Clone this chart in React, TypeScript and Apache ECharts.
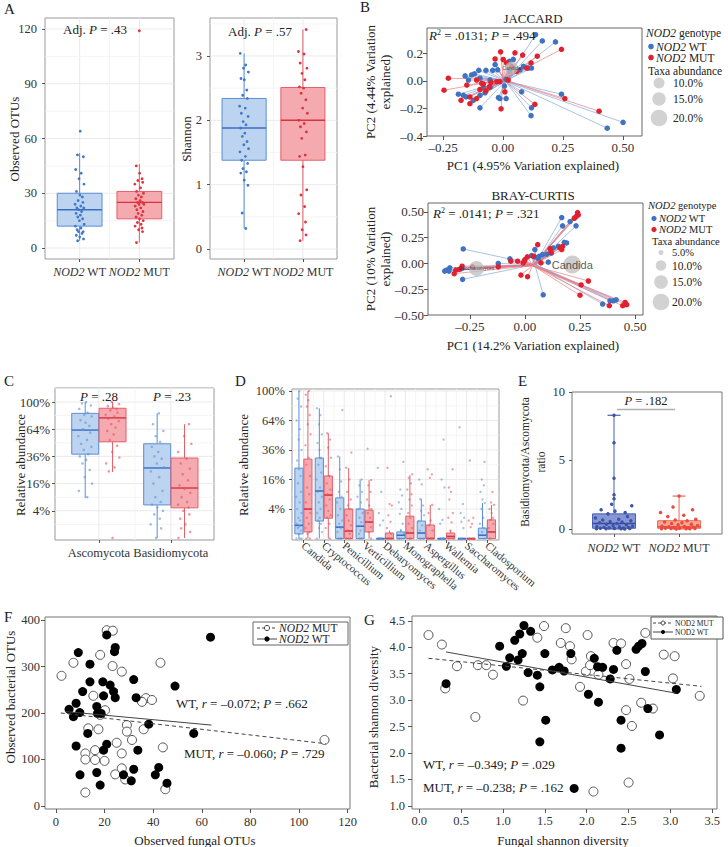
import React, { useEffect, useRef } from "react";
import * as echarts from "echarts";

const SERIF = "'Liberation Serif','DejaVu Serif',serif";
const SANS = "'Liberation Sans','DejaVu Sans',sans-serif";

// ---------- shared ----------
const GROUP_LABELS = ["NOD2 WT", "NOD2 MUT"];
const JIT = [0.12, -0.45, 0.78, -0.83, 0.33, -0.12, 0.91, -0.66, 0.05, 0.57, -0.31, 0.69, -0.95, 0.24, -0.58, 0.86, -0.2, 0.41, -0.74, 0.15, -0.38, 0.63, -0.05, 0.95, -0.88, 0.28, -0.52, 0.74, -0.25, 0.49, -0.7, 0.02, 0.81, -0.41, 0.36, -0.9, 0.55, -0.15, 0.67, -0.6];

// ---------- Panel A ----------
const A_OTU_WT = [64, 51, 50, 43, 41, 38, 35, 31, 29, 28, 26, 25, 24, 23, 22, 22, 21, 20, 19, 18, 17, 16, 15, 13, 12, 11, 10, 9, 9, 8, 7, 6, 5, 4];
const A_OTU_MUT = [45, 41, 38, 37, 36, 35, 33, 31, 30, 29, 28, 27, 26, 25, 25, 24, 24, 23, 22, 21, 20, 19, 18, 17, 16, 15, 14, 13, 12, 11, 10, 9, 3];
const A_OTU_MUT_OUTLIER = [119];
const A_OTU_BOX_WT = [4, 12, 21, 30, 52];
const A_OTU_BOX_MUT = [3, 16, 25, 31, 46];
const A_OTU_TICKS = [0, 30, 60, 90, 120];
const A_SH_WT = [3.04, 2.86, 2.81, 2.75, 2.65, 2.63, 2.47, 2.39, 2.34, 2.22, 2.19, 2.11, 2.06, 1.98, 1.93, 1.88, 1.8, 1.75, 1.67, 1.62, 1.56, 1.51, 1.44, 1.38, 1.33, 1.25, 1.2, 1.18, 1.07, 0.99, 0.56, 0.32];
const A_SH_MUT = [3.41, 3.07, 3.03, 2.89, 2.81, 2.73, 2.63, 2.52, 2.5, 2.42, 2.32, 2.19, 2.11, 2.0, 1.95, 1.9, 1.82, 1.72, 1.46, 1.44, 1.28, 0.92, 0.84, 0.66, 0.55, 0.42, 0.3, 0.22, 0.13];
const A_SH_BOX_WT = [0.32, 1.38, 1.88, 2.34, 3.04];
const A_SH_BOX_MUT = [0.13, 1.38, 2.0, 2.51, 3.41];
const A_SH_TICKS = [0, 1, 2, 3];

// ---------- Panel B ----------
const B_TICKS_X1 = [-0.25, 0, 0.25, 0.5];
const B_TICKS_Y1 = [-0.4, -0.2, 0, 0.2];
const B_TICKS_X2 = [-0.25, 0, 0.25, 0.5];
const B_TICKS_Y2 = [-0.5, -0.25, 0, 0.25, 0.5];
const JAC_WT = [[0.136, 0.336], [0.164, 0.291], [0.219, 0.284], [0.026, 0.143], [-0.033, 0.119], [-0.022, 0.081], [-0.071, 0.077], [-0.043, 0.077], [-0.101, 0.077], [-0.131, 0.044], [-0.158, 0.037], [-0.144, 0.007], [-0.119, 0.052], [-0.096, 0.02], [-0.054, 0.007], [0.071, 0.081], [0.106, 0.094], [0.119, 0.094], [0.085, 0.106], [0.043, 0.156], [0.006, -0.037], [0.013, 0.012], [-0.186, -0.096], [-0.165, -0.104], [-0.154, -0.116], [-0.096, -0.104], [-0.075, -0.086], [-0.054, -0.047], [-0.019, -0.121], [-0.013, -0.128], [0.013, -0.128], [-0.096, -0.195], [0.078, -0.079], [0.244, -0.096], [0.119, -0.195], [0.117, -0.252], [0.435, -0.343], [0.501, -0.301], [-0.124, -0.141], [-0.082, -0.047], [0.029, 0.069]];
const JAC_MUT = [[-0.228, 0.02], [-0.246, -0.067], [-0.175, -0.141], [-0.138, -0.116], [-0.138, -0.165], [-0.11, -0.128], [-0.096, -0.062], [-0.071, -0.072], [-0.057, -0.042], [-0.05, -0.012], [-0.026, -0.005], [-0.01, 0.212], [0.001, 0.156], [-0.033, 0.16], [0.05, 0.205], [0.082, 0.188], [0.117, 0.131], [0.143, 0.18], [0.244, 0.23], [0.099, 0.094], [0.057, 0.069], [0.022, 0.007], [-0.013, -0.005], [0.008, -0.079], [-0.008, -0.202], [0.133, -0.17], [0.258, -0.128], [0.401, -0.22], [-0.082, -0.022], [0.015, 0.131], [0.036, 0.106], [-0.11, 0.007], [-0.089, -0.017], [-0.151, -0.03]];
const JAC_CENTROID_WT = [0.01, 0.0];
const JAC_CENTROID_MUT = [0.0, 0.01];
const JAC_TAXA = [{ name: "Candida", x: 0.036, y: 0.094, size: 13 }];
const BC_WT = [[0.167, 0.446], [0.205, 0.407], [0.232, 0.365], [0.171, 0.365], [0.179, 0.205], [0.152, 0.167], [0.045, 0.135], [0.08, 0.087], [0.065, 0.07], [0.045, 0.064], [0.03, 0.077], [0.106, 0.013], [-0.068, 0.045], [-0.121, 0], [-0.28, 0.141], [-0.283, -0.154], [0.083, -0.304], [-0.341, -0.042], [-0.356, -0.064], [-0.345, -0.074], [-0.364, -0.074], [-0.288, -0.051], [0.353, -0.394], [0.386, -0.362], [0.402, -0.362], [0.414, -0.353], [0.129, 0.151], [0.189, 0.199], [0.1, 0.09], [0.12, 0.1], [0.06, 0.05]];
const BC_MUT = [[0.239, 0.494], [0.242, 0.471], [0.232, 0.455], [0.224, 0.439], [0.171, 0.167], [0.159, 0.151], [0.167, 0.135], [0.114, 0.144], [0.118, 0.109], [0.058, 0.183], [0.038, 0.071], [0.011, 0.064], [0, 0.038], [-0.003, 0.022], [-0.064, 0.022], [-0.033, 0.022], [0.073, 0.006], [-0.008, 0.006], [-0.121, -0.032], [-0.238, -0.032], [-0.285, -0.026], [-0.298, -0.058], [-0.314, -0.064], [-0.321, -0.099], [-0.018, -0.112], [0.012, -0.128], [0.255, -0.208], [0.288, -0.17], [0.25, -0.308], [0.383, -0.41], [0.444, -0.41], [0.455, -0.378], [0.462, -0.4]];
const BC_CENTROID_WT = [0.045, -0.01];
const BC_CENTROID_MUT = [0.035, -0.02];
const BC_TAXA = [{ name: "Candida", x: 0.215, y: -0.01, size: 18, fs: 11 }, { name: "Saccharomyces", x: -0.22, y: -0.048, size: 15, fs: 5 }];

// ---------- Panel C ----------
const PHYLA = ["Ascomycota", "Basidiomycota"];
const C_ASCO_WT = [100, 98, 95, 90, 85, 82, 80, 75, 72, 68, 64, 60, 56, 52, 48, 45, 42, 38, 36, 33, 30, 25, 20, 16, 12, 9];
const C_ASCO_MUT = [100, 97, 94, 92, 90, 88, 85, 82, 80, 77, 74, 70, 66, 62, 58, 52, 46, 40, 35, 30, 27, 24];
const C_ASCO_MUT_OUTLIER = [0];
const C_BASI_WT = [84, 70, 62, 56, 50, 45, 40, 36, 34, 30, 27, 24, 20, 16, 12, 9, 7, 6, 5, 4, 3, 2, 1, 0.5, 0];
const C_BASI_MUT = [70, 56, 48, 40, 34, 30, 26, 22, 18, 15, 13, 11, 9, 7, 6, 5, 4, 3, 2, 1, 0.5, 0.2, 0];
const C_BOX_WT = [[8.6, 38, 63, 84, 100], [0, 5.9, 26.5, 48, 84]];
const C_BOX_MUT = [[23.5, 50, 78, 91, 100], [0, 4.9, 13.5, 34.6, 70]];
const PCT_TICKS = [4, 16, 36, 64, 100];

// ---------- Panel D ----------
const TAXA = ["Candida", "Cryptococcus", "Penicillium", "Verticillium", "Debaryomyces", "Monographella", "Aspergillus", "Wallemia", "Saccharomyces", "Cladosporium"];
const D_BOX_WT = [[0, 0.1, 0.8, 22.8, 100], [0, 1.4, 10.4, 29.8, 78], [0, 0, 0.6, 7.6, 31], [0, 0, 0.7, 4, 16], [0, 0, 0, 0, 0], [0, 0, 0.05, 0.2, 0.4], [0, 0, 0.14, 1.4, 7.2], [0, 0, 0, 0, 0], [0, 0, 0, 0, 0], [0, 0, 0.05, 0.5, 5.8]];
const D_BOX_MUT = [[0, 0.2, 4, 29, 100], [0, 1.9, 8.7, 18, 51], [0, 0, 0.26, 4, 22.8], [0, 0.2, 1.25, 3.7, 15.7], [0, 0, 0, 0.14, 0.3], [0, 0, 0.14, 2.3, 18.5], [0, 0, 0, 0.84, 5.2], [0, 0, 0.02, 0.14, 0.3], [0, 0, 0, 0, 0], [0, 0, 0.2, 1.6, 5.2]];
const D_PTS_WT = [
  [100, 90, 80, 64, 55, 45, 36, 28, 22, 18, 14, 10, 8, 6, 4, 3, 2, 1.5, 1, 0.7, 0.5, 0.3, 0.1, 0, 0, 0],
  [78, 70, 60, 50, 42, 36, 30, 25, 20, 16, 12, 10, 8, 6, 4, 3, 2, 1.5, 1, 0.5, 0.2, 0],
  [76, 31, 22, 15, 10, 8, 6, 4, 2.5, 1.5, 1, 0.5, 0.2, 0, 0, 0],
  [16, 13, 10, 8, 6, 4, 3, 2, 1.2, 0.7, 0.3, 0.1, 0, 0],
  [23, 10, 3, 1.5, 0.8, 0, 0, 0, 0],
  [27, 11, 8.5, 6, 4, 2.8, 1, 0.3, 0.1, 0, 0, 0],
  [16, 13.5, 7.2, 5, 3.5, 2.5, 1.4, 0.8, 0.3, 0, 0],
  [45, 16, 12, 4, 1.6, 1.0, 0, 0, 0],
  [57, 5.5, 3, 2, 1.3, 0.5, 0, 0],
  [27, 16, 13, 10, 7, 5.8, 4, 2, 1, 0.5, 0.2, 0],
];
const D_PTS_MUT = [
  [100, 95, 88, 80, 70, 60, 50, 40, 30, 25, 18, 12, 9, 6, 4, 3, 2, 1, 0.5, 0.2, 0.1, 0, 0],
  [51, 45, 38, 30, 24, 18, 14, 11, 9, 7, 5, 3.5, 2.5, 2, 1, 0.5, 0],
  [34, 23, 16, 10, 7, 5, 4, 2.5, 1.5, 0.8, 0.3, 0.1, 0, 0, 0],
  [37, 15.7, 13, 10, 7, 5, 4, 3, 2, 1.3, 0.6, 0.2, 0],
  [93, 23, 5.5, 5, 2.5, 1.3, 0.5, 0.1, 0, 0, 0],
  [19, 17, 14, 11, 9, 7, 5, 3, 2, 1, 0.5, 0.2, 0, 0],
  [22, 19, 17, 5.2, 3, 1.5, 0.8, 0.3, 0, 0],
  [22, 12, 10, 7, 3, 2, 1.2, 0.3, 0, 0],
  [28, 2, 1.5, 1, 0.6, 0, 0],
  [10, 6, 5.2, 4, 3, 2, 1.6, 1, 0.5, 0.2, 0],
];

// ---------- Panel E ----------
const E_WT = [8.3, 6.3, 3.7, 2.5, 2.2, 1.8, 1.7, 1.4, 1.3, 1.2, 1.1, 0.9, 0.8, 0.7, 0.65, 0.6, 0.55, 0.5, 0.45, 0.4, 0.35, 0.3, 0.25, 0.2, 0.18, 0.15, 0.12, 0.1, 0.08, 0.06, 0.05, 0.04, 0.03, 0.02, 0.01, 0.01, 0];
const E_MUT = [2.4, 1.6, 1.4, 1.2, 1.0, 0.9, 0.7, 0.65, 0.6, 0.5, 0.45, 0.4, 0.35, 0.3, 0.25, 0.2, 0.18, 0.15, 0.12, 0.1, 0.08, 0.06, 0.05, 0.04, 0.03, 0.02, 0.01, 0.01, 0];
const E_BOX_WT = [0, 0.05, 0.4, 1.1, 8.3];
const E_BOX_MUT = [0, 0.05, 0.15, 0.6, 2.4];
const E_TICKS = [0, 5, 10];

// ---------- Panel F ----------
const F_MUT = [[2.3, 280], [7.2, 308], [20.9, 378], [23.4, 377], [18.2, 325], [23.3, 301], [27.1, 289], [43, 308], [15.4, 237], [37, 232], [39.5, 228], [35.4, 224], [20.2, 206], [18.2, 196], [29.2, 174], [29.2, 160], [31.3, 142], [36.1, 165], [17.5, 165], [13.3, 167], [25, 136], [27.1, 113], [12.1, 113], [16.1, 120], [12.1, 100], [16.1, 99], [20, 97], [44, 126], [24.4, 68], [28.5, 57], [27.1, 81], [12.1, 29], [45, 36], [110.5, 142]];
const F_WT = [[9.2, 330], [20.9, 368], [24.4, 341], [24.1, 332], [14, 305], [32, 272], [14, 267], [19.3, 267], [22.3, 260], [49, 258], [11, 246], [19.6, 237], [23.7, 246], [24.4, 233], [33, 233], [63.6, 363], [5.4, 208], [8.3, 221], [7.2, 192], [9.8, 201], [16.8, 214], [17.1, 199], [18.6, 199], [38.2, 176], [13.1, 156], [56.7, 156], [20.9, 133], [19.6, 120], [33.7, 120], [8.3, 129], [9.9, 67], [16.8, 72], [18.2, 45], [27.8, 67], [32, 79], [31, 54], [42.3, 83], [40.9, 67], [45.7, 49]];
const F_FIT_WT = [[4, 203], [64, 174]];
const F_FIT_MUT = [[2, 200], [111, 134]];
const F_TICKS_X = [0, 20, 40, 60, 80, 100, 120];
const F_TICKS_Y = [0, 100, 200, 300, 400];

// ---------- Panel G ----------
const G_MUT = [[0.11, 4.23], [0.27, 4.05], [0.45, 3.64], [0.31, 3.22], [0.7, 3.66], [0.8, 3.66], [0.88, 3.48], [0.67, 2.68], [1.24, 2.99], [1.49, 4.4], [1.41, 4.18], [1.75, 4.36], [1.69, 4.08], [1.8, 4.02], [1.82, 3.77], [2.01, 4.23], [1.92, 3.25], [1.99, 3.54], [2.04, 3.66], [2.05, 3.83], [2.14, 3.48], [2.32, 4.08], [2.41, 4.07], [2.47, 3.68], [2.51, 3.4], [2.47, 2.81], [2.54, 2.51], [2.65, 2.95], [2.7, 4.27], [2.79, 2.84], [2.92, 3.86], [3.05, 3.83], [3.03, 3.41], [3.35, 3.08], [2.08, 1.27], [2.5, 1.44]];
const G_WT = [[0.32, 3.31], [0.96, 4.02], [1.04, 3.64], [1.08, 3.8], [1.18, 3.76], [1.14, 4.13], [1.2, 4.25], [1.25, 4.41], [1.33, 4.3], [1.23, 3.88], [1.3, 3.52], [1.41, 3.47], [1.44, 3.25], [1.5, 3.88], [1.59, 3.57], [1.67, 3.62], [1.73, 3.55], [1.81, 3.88], [1.44, 2.21], [1.51, 2.62], [1.85, 1.33], [2.02, 3.11], [2.09, 3.79], [2.13, 3.63], [2.19, 3.62], [2.14, 2.96], [2.28, 3.4], [2.32, 3.58], [2.36, 3.94], [2.41, 2.62], [2.41, 2.09], [2.59, 3.96], [2.62, 4.02], [2.66, 4.07], [2.7, 3.54], [2.73, 2.84], [2.87, 2.34], [3.07, 3.2]];
const G_FIT_WT = [[0.32, 3.91], [3.07, 3.13]];
const G_FIT_MUT = [[0.11, 3.79], [3.37, 3.26]];
const G_TICKS_X = [0, 0.5, 1, 1.5, 2, 2.5, 3, 3.5];
const G_TICKS_Y = [1, 1.5, 2, 2.5, 3, 3.5, 4, 4.5];

// ---------- colours ----------
const BLUE = { fill: "#bcd4f0", stroke: "#5a8ed6", med: "#3a6ec2", pt: "#3f78c9" };
const RED = { fill: "#f5aab0", stroke: "#e2606a", med: "#d8333e", pt: "#e0313c" };
const E_BLUE = { fill: "#8797d6", stroke: "#4a5fb3", med: "#34499f", pt: "#3d54a8" };
const E_RED = { fill: "#f7a797", stroke: "#ee6a58", med: "#e4432f", pt: "#eb4a3c" };
const B_BLUE = "#3f72bf";
const B_RED = "#e0212e";

const sq = (v: number) => Math.sqrt(v);
const minus = (s: string) => s.replace("-", "\u2013");

function jit(values: number[], xc: number, amp: number, k: number, tf?: (v: number) => number) {
  return values.map((v, i) => [xc + JIT[(i + k) % JIT.length] * amp, tf ? tf(v) : v]);
}

function axis(gi: number, min: number, max: number, vals: number[], fmt: any, o: any = {}) {
  return {
    type: "value", gridIndex: gi, min, max,
    axisLine: { show: false, onZero: false },
    splitLine: { show: false },
    axisTick: { show: o.tick !== false, customValues: vals, length: o.tickLen ?? 3, lineStyle: { color: o.tickColor || "#555", width: 1 } },
    axisLabel: {
      show: true, customValues: vals, formatter: fmt, color: "#333", fontFamily: SERIF, interval: 0,
      fontSize: o.size || 12.5, margin: o.margin ?? 5, rotate: o.rotate || 0, rich: o.rich, hideOverlap: false,
    },
  };
}

function boxSeries(gi: number, items: { x: number; s: number[] }[], w: number, col: any, o: any = {}) {
  return {
    type: "custom", xAxisIndex: gi, yAxisIndex: gi, silent: true, z: 2,
    data: items.map((b) => [b.x, ...b.s]),
    encode: { x: 0, y: [1, 2, 3, 4, 5] },
    renderItem: (params: any, api: any) => {
      const x = api.value(0);
      const lo = api.coord([x, api.value(1)]);
      const q1 = api.coord([x, api.value(2)]);
      const md = api.coord([x, api.value(3)]);
      const q3 = api.coord([x, api.value(4)]);
      const hi = api.coord([x, api.value(5)]);
      const l = api.coord([x - w / 2, 0])[0];
      const r = api.coord([x + w / 2, 0])[0];
      const lw = o.lw ?? 1;
      const children: any[] = [
        { type: "line", shape: { x1: lo[0], y1: lo[1], x2: q1[0], y2: q1[1] }, style: { stroke: col.stroke, lineWidth: lw } },
        { type: "line", shape: { x1: q3[0], y1: q3[1], x2: hi[0], y2: hi[1] }, style: { stroke: col.stroke, lineWidth: lw } },
        { type: "rect", shape: { x: l, y: q3[1], width: r - l, height: Math.max(q1[1] - q3[1], 0.6) }, style: { fill: col.fill, stroke: col.stroke, lineWidth: lw, opacity: o.opacity ?? 1 } },
        { type: "line", shape: { x1: l, y1: md[1], x2: r, y2: md[1] }, style: { stroke: col.med, lineWidth: o.medW ?? 1.4 } },
      ];
      if (o.cap) {
        const cl = api.coord([x - o.cap / 2, 0])[0];
        const cr = api.coord([x + o.cap / 2, 0])[0];
        children.push({ type: "line", shape: { x1: cl, y1: hi[1], x2: cr, y2: hi[1] }, style: { stroke: col.stroke, lineWidth: 1.2 } });
        children.push({ type: "line", shape: { x1: cl, y1: lo[1], x2: cr, y2: lo[1] }, style: { stroke: col.stroke, lineWidth: 1.2 } });
      }
      return { type: "group", children };
    },
  };
}

function gridLines(gi: number, xmin: number, ymin: number, hs: number[], vs: number[], color: string, width: number) {
  const data = [...hs.map((h) => [xmin, h, 0]), ...vs.map((v) => [v, ymin, 1])];
  return {
    type: "custom", xAxisIndex: gi, yAxisIndex: gi, silent: true, z: 0, data, encode: { x: 0, y: 1 },
    renderItem: (params: any, api: any) => {
      const cs = params.coordSys;
      const p = api.coord([api.value(0), api.value(1)]);
      if (api.value(2) === 0) return { type: "line", shape: { x1: cs.x, y1: p[1], x2: cs.x + cs.width, y2: p[1] }, style: { stroke: color, lineWidth: width } };
      return { type: "line", shape: { x1: p[0], y1: cs.y, x2: p[0], y2: cs.y + cs.height }, style: { stroke: color, lineWidth: width } };
    },
  };
}

function scat(gi: number, data: any[], color: string, size: number, o: any = {}) {
  return {
    type: "scatter", xAxisIndex: gi, yAxisIndex: gi, data, symbol: "circle", symbolSize: size, silent: true, z: o.z ?? 3,
    itemStyle: { color, opacity: o.opacity ?? 1, borderColor: o.border || color, borderWidth: o.bw ?? 0 },
  };
}

function spider(gi: number, pts: number[][], c: number[], color: string) {
  return {
    type: "custom", xAxisIndex: gi, yAxisIndex: gi, silent: true, z: 1,
    data: pts.map((p) => [p[0], p[1], c[0], c[1]]), encode: { x: [0, 2], y: [1, 3] },
    renderItem: (params: any, api: any) => {
      const a = api.coord([api.value(0), api.value(1)]);
      const b = api.coord([api.value(2), api.value(3)]);
      return { type: "line", shape: { x1: a[0], y1: a[1], x2: b[0], y2: b[1] }, style: { stroke: color, lineWidth: 0.8, opacity: 0.85 } };
    },
  };
}

function fitLine(gi: number, data: number[][], dashed: boolean) {
  return {
    type: "line", xAxisIndex: gi, yAxisIndex: gi, data, symbol: "none", silent: true, z: 5,
    lineStyle: { color: "#444", width: 1, type: dashed ? [4, 3] : "solid" },
  };
}

function bubbles(gi: number, taxa: any[]) {
  return {
    type: "scatter", xAxisIndex: gi, yAxisIndex: gi, silent: true, z: 4,
    data: taxa.map((t) => ({ value: [t.x, t.y], symbolSize: t.size, label: { show: true, formatter: t.name, position: "inside", fontSize: t.fs || 5, fontFamily: SANS, color: "#222" } })),
    itemStyle: { color: "#bdbdbd", opacity: 0.75 },
  };
}

function richG(size: number, color = "#222") {
  return {
    i: { fontStyle: "italic", fontFamily: SERIF, fontSize: size, fill: color, color },
    sup: { fontFamily: SERIF, fontSize: size * 0.62, fill: color, color, verticalAlign: "top", padding: [0, 0, 6, 0] },
  };
}

function txt(x: number, y: number, text: string, o: any = {}) {
  const size = o.size || 13;
  return {
    type: "text", x, y, rotation: o.rot || 0, silent: true, z: 100,
    style: {
      text, fill: o.color || "#222", fontSize: size, fontFamily: o.family || SERIF,
      fontStyle: o.italic ? "italic" : "normal",
      textAlign: o.align || "center", align: o.align || "center",
      textVerticalAlign: "middle", verticalAlign: "middle",
      rich: richG(size, o.color || "#222"),
    },
  };
}

function circ(cx: number, cy: number, r: number, fill: string, stroke?: string) {
  return { type: "circle", shape: { cx, cy, r }, silent: true, z: 100, style: { fill, stroke: stroke || null, lineWidth: 1 } };
}
function seg(x1: number, y1: number, x2: number, y2: number, stroke: string, w = 1, dash?: number[]) {
  return { type: "line", shape: { x1, y1, x2, y2 }, silent: true, z: 100, style: { stroke, lineWidth: w, lineDash: dash || null } };
}

function buildOption() {
  const gridDefs = [
    { left: 45, top: 18, width: 129, height: 241, border: "#9a9a9a" },
    { left: 210, top: 18, width: 127, height: 241, border: "#9a9a9a" },
    { left: 427, top: 28, width: 215, height: 108, border: "#666" },
    { left: 428, top: 203, width: 215, height: 112, border: "#666" },
    { left: 55, top: 388, width: 159, height: 152, border: "#9a9a9a" },
    { left: 292, top: 389, width: 207, height: 151, border: "#9a9a9a" },
    { left: 572, top: 392, width: 150, height: 142, border: "#777" },
    { left: 45, top: 617, width: 305, height: 192, border: "#777" },
    { left: 412, top: 616, width: 305, height: 193, border: "#777" },
  ];
  const grid = gridDefs.map((g) => ({ left: g.left, top: g.top, width: g.width, height: g.height, show: true, borderColor: g.border, borderWidth: 1, backgroundColor: "transparent", containLabel: false }));

  const richAx = (size: number) => ({ i: { fontStyle: "italic", fontFamily: SERIF, fontSize: size, color: "#333" } });
  const grpFmt = (v: number) => (v === 1 ? "{i|NOD2} WT" : "{i|NOD2} MUT");
  const pctFmt = (v: number) => Math.round(v * v) + "%";

  const xAxis = [
    axis(0, 0.42, 2.58, [1, 2], grpFmt, { rich: richAx(12), size: 12, margin: 7 }),
    axis(1, 0.42, 2.58, [1, 2], grpFmt, { rich: richAx(12), size: 12, margin: 7 }),
    axis(2, -0.317, 0.58, B_TICKS_X1, (v: number) => minus(v.toFixed(2)), { size: 13, margin: 5, tickLen: 4 }),
    axis(3, -0.44, 0.536, B_TICKS_X2, (v: number) => minus(v.toFixed(2)), { size: 13, margin: 5, tickLen: 4 }),
    axis(4, 0.39, 2.6, [1, 2], (v: number) => PHYLA[v - 1], { size: 12.5, margin: 6 }),
    axis(5, -0.56, 9.59, TAXA.map((_, i) => i), (v: number) => TAXA[v], { size: 11, margin: 4, rotate: -40 }),
    axis(6, 0.354, 2.66, [1, 2], grpFmt, { rich: richAx(12), size: 12, margin: 8 }),
    axis(7, -4.5, 121, F_TICKS_X, (v: number) => String(v), { size: 12.5, margin: 6, tickLen: 4 }),
    axis(8, -0.087, 3.556, G_TICKS_X, (v: number) => v.toFixed(1), { size: 12.5, margin: 5, tickLen: 4 }),
  ];
  const yAxis = [
    axis(0, -6, 126, A_OTU_TICKS, (v: number) => String(v), { size: 12.5, margin: 8 }),
    axis(1, -0.155, 3.59, A_SH_TICKS, (v: number) => String(v), { size: 12.5, margin: 8 }),
    axis(2, -0.4, 0.385, B_TICKS_Y1, (v: number) => minus(v.toFixed(1)), { size: 13, margin: 4, tickLen: 4 }),
    axis(3, -0.5, 0.587, B_TICKS_Y2, (v: number) => minus(v.toFixed(2)), { size: 13, margin: 4, tickLen: 4 }),
    axis(4, -0.15, 11.03, PCT_TICKS.map(sq), pctFmt, { size: 13, margin: 5 }),
    axis(5, -0.1, 10.14, PCT_TICKS.map(sq), pctFmt, { size: 12.5, margin: 7 }),
    axis(6, -0.37, 10, E_TICKS, (v: number) => String(v), { size: 12.5, margin: 7 }),
    axis(7, -6.5, 406.5, F_TICKS_Y, (v: number) => String(v), { size: 12.5, margin: 5, tickLen: 4 }),
    axis(8, 0.94, 4.59, G_TICKS_Y, (v: number) => v.toFixed(1), { size: 12.5, margin: 7, tickLen: 4 }),
  ];

  const MAJ = "#e4e4e4";
  const MIN = "#f1f1f1";
  const sqT = PCT_TICKS.map(sq);
  const series: any[] = [
    // A grids
    gridLines(0, 0.42, -6, A_OTU_TICKS, [1, 2], MAJ, 0.8),
    gridLines(0, 0.42, -6, [15, 45, 75, 105], [1.5], MIN, 0.8),
    gridLines(1, 0.42, -0.155, A_SH_TICKS, [1, 2], MAJ, 0.8),
    gridLines(1, 0.42, -0.155, [0.5, 1.5, 2.5, 3.5], [1.5], MIN, 0.8),
    // A boxes & points
    boxSeries(0, [{ x: 1, s: A_OTU_BOX_WT }], 0.75, BLUE),
    boxSeries(0, [{ x: 2, s: A_OTU_BOX_MUT }], 0.75, RED),
    scat(0, jit(A_OTU_WT, 1, 0.08, 0), BLUE.pt, 2.8),
    scat(0, jit(A_OTU_MUT, 2, 0.08, 7), RED.pt, 2.8),
    scat(0, A_OTU_MUT_OUTLIER.map((v) => [2, v]), RED.pt, 2.8),
    boxSeries(1, [{ x: 1, s: A_SH_BOX_WT }], 0.75, BLUE),
    boxSeries(1, [{ x: 2, s: A_SH_BOX_MUT }], 0.75, RED),
    scat(1, jit(A_SH_WT, 1, 0.08, 3), BLUE.pt, 2.8),
    scat(1, jit(A_SH_MUT, 2, 0.08, 11), RED.pt, 2.8),
    // B Jaccard
    spider(2, JAC_WT, JAC_CENTROID_WT, "#7ea6dc"),
    spider(2, JAC_MUT, JAC_CENTROID_MUT, "#ea7a80"),
    scat(2, JAC_WT, B_BLUE, 5.5),
    scat(2, JAC_MUT, B_RED, 5.5),
    bubbles(2, JAC_TAXA),
    // B Bray-Curtis
    spider(3, BC_WT, BC_CENTROID_WT, "#7ea6dc"),
    spider(3, BC_MUT, BC_CENTROID_MUT, "#ea7a80"),
    scat(3, BC_WT, B_BLUE, 5.5),
    scat(3, BC_MUT, B_RED, 5.5),
    bubbles(3, BC_TAXA),
    // C
    gridLines(4, 0.39, -0.15, sqT, [1, 2], MAJ, 0.8),
    gridLines(4, 0.39, -0.15, [1, 3, 5, 7, 9, 11], [1.5], MIN, 0.8),
    boxSeries(4, C_BOX_WT.map((s, i) => ({ x: i + 1 - 0.19, s: s.map(sq) })), 0.375, BLUE),
    boxSeries(4, C_BOX_MUT.map((s, i) => ({ x: i + 1 + 0.19, s: s.map(sq) })), 0.375, RED),
    scat(4, jit(C_ASCO_WT, 1 - 0.19, 0.1, 0, sq), "#5f92d6", 2.6, { opacity: 0.6 }),
    scat(4, jit(C_ASCO_MUT, 1 + 0.19, 0.1, 5, sq), "#e4545e", 2.6, { opacity: 0.6 }),
    scat(4, C_ASCO_MUT_OUTLIER.map((v) => [1 + 0.19, sq(v)]), "#e4545e", 2.6, { opacity: 0.6 }),
    scat(4, jit(C_BASI_WT, 2 - 0.19, 0.1, 13, sq), "#5f92d6", 2.6, { opacity: 0.6 }),
    scat(4, jit(C_BASI_MUT, 2 + 0.19, 0.1, 21, sq), "#e4545e", 2.6, { opacity: 0.6 }),
    // D
    gridLines(5, -0.56, -0.1, sqT, TAXA.map((_, i) => i), MAJ, 0.8),
    gridLines(5, -0.56, -0.1, [1, 3, 5, 7, 9], TAXA.slice(1).map((_, i) => i + 0.5), MIN, 0.8),
    boxSeries(5, D_BOX_WT.map((s, i) => ({ x: i - 0.22, s: s.map(sq) })), 0.4, BLUE, { medW: 1.6 }),
    boxSeries(5, D_BOX_MUT.map((s, i) => ({ x: i + 0.22, s: s.map(sq) })), 0.4, RED, { medW: 1.6 }),
    scat(5, D_PTS_WT.flatMap((arr, i) => jit(arr, i - 0.22, 0.14, i * 3, sq)), "#5f92d6", 2.4, { opacity: 0.55 }),
    scat(5, D_PTS_MUT.flatMap((arr, i) => jit(arr, i + 0.22, 0.14, i * 3 + 17, sq)), "#e4545e", 2.4, { opacity: 0.55 }),
    // E
    boxSeries(6, [{ x: 1, s: E_BOX_WT }], 0.66, E_BLUE, { cap: 0.2 }),
    boxSeries(6, [{ x: 2, s: E_BOX_MUT }], 0.66, E_RED, { cap: 0.2 }),
    scat(6, E_WT.map((v, i) => [1 + (v > 2 ? 0 : JIT[i % JIT.length] * 0.3), v]), E_BLUE.pt, 3.5),
    scat(6, E_MUT.map((v, i) => [2 + (v > 2 ? 0 : JIT[(i + 9) % JIT.length] * 0.3), v]), E_RED.pt, 3.5),
    // F
    scat(7, F_MUT, "#ffffff", 9, { border: "#555", bw: 1 }),
    scat(7, F_WT, "#000000", 9),
    fitLine(7, F_FIT_WT, false),
    fitLine(7, F_FIT_MUT, true),
    // G
    scat(8, G_MUT, "#ffffff", 9, { border: "#555", bw: 1 }),
    scat(8, G_WT, "#000000", 9),
    fitLine(8, G_FIT_WT, false),
    fitLine(8, G_FIT_MUT, true),
  ];

  const R90 = Math.PI / 2;
  const graphic: any[] = [
    // panel letters
    txt(4, 9, "A", { size: 15, align: "left" }),
    txt(360, 7, "B", { size: 15, align: "left" }),
    txt(4, 381, "C", { size: 15, align: "left" }),
    txt(235, 381, "D", { size: 15, align: "left" }),
    txt(518, 381, "E", { size: 15, align: "left" }),
    txt(4, 617, "F", { size: 15, align: "left" }),
    txt(364, 620, "G", { size: 15, align: "left" }),
    // A
    txt(14, 139, "Observed OTUs", { rot: R90 }),
    txt(186, 139, "Shannon", { rot: R90 }),
    txt(95, 29, "Adj. {i|P} = .43"),
    txt(260, 31, "Adj. {i|P} = .57"),
    // B top
    txt(533, 18, "JACCARD"),
    txt(429, 35, "{i|R}{sup|2} = .0131; {i|P} = .494", { align: "left" }),
    txt(533, 165, "PC1 (4.95% Variation explained)"),
    txt(370, 82, "PC2 (4.44% Variation", { rot: R90 }),
    txt(385, 82, "explained)", { rot: R90 }),
    txt(646, 33, "{i|NOD2} genotype", { align: "left", size: 11.5 }),
    circ(651, 46.5, 2.8, B_BLUE),
    txt(656, 46.5, "{i|NOD2} WT", { align: "left", size: 11.5 }),
    circ(651, 57.5, 2.8, B_RED),
    txt(656, 57.5, "{i|NOD2} MUT", { align: "left", size: 11.5 }),
    txt(648, 71, "Taxa abundance", { align: "left", size: 11.5 }),
    circ(659, 83, 5.5, "#d2d2d2"),
    txt(673, 83, "10.0%", { align: "left", size: 11.5 }),
    circ(659, 99, 6.7, "#d2d2d2"),
    txt(673, 99, "15.0%", { align: "left", size: 11.5 }),
    circ(659, 118, 8.3, "#d2d2d2"),
    txt(673, 118, "20.0%", { align: "left", size: 11.5 }),
    // B bottom
    txt(533, 195, "BRAY-CURTIS"),
    txt(433, 213, "{i|R}{sup|2} = .0141; {i|P} = .321", { align: "left" }),
    txt(533, 345, "PC1 (14.2% Variation explained)"),
    txt(370, 259, "PC2 (10% Variation", { rot: R90 }),
    txt(385, 259, "explained)", { rot: R90 }),
    txt(648, 205, "{i|NOD2} genotype", { align: "left", size: 10.5 }),
    circ(654, 218.5, 2.6, B_BLUE),
    txt(659, 218.5, "{i|NOD2} WT", { align: "left", size: 10.5 }),
    circ(654, 229.5, 2.6, B_RED),
    txt(659, 229.5, "{i|NOD2} MUT", { align: "left", size: 10.5 }),
    txt(652, 241, "Taxa abundance", { align: "left", size: 10.5 }),
    circ(661, 252.5, 2.5, "#d2d2d2"),
    txt(672, 252, "5.0%", { align: "left", size: 10.5 }),
    circ(661, 265.5, 5.3, "#d2d2d2"),
    txt(672, 265.5, "10.0%", { align: "left", size: 11.5 }),
    circ(661, 282, 6.8, "#d2d2d2"),
    txt(672, 282, "15.0%", { align: "left", size: 11.5 }),
    circ(661, 302, 8.3, "#d2d2d2"),
    txt(672, 302, "20.0%", { align: "left", size: 11.5 }),
    // C
    txt(20, 465, "Relative abundance", { rot: R90 }),
    txt(99, 396, "{i|P} = .28"),
    txt(172, 396, "{i|P} = .23"),
    // D
    txt(243, 465, "Relative abundance", { rot: R90 }),
    // E
    txt(525, 462, "Basidiomycota/Ascomycota", { rot: R90, size: 11.5 }),
    txt(541, 462, "ratio", { rot: R90, size: 11.5 }),
    txt(646, 401, "{i|P} = .182", { size: 12.5 }),
    seg(617, 409.5, 675, 409.5, "#b0b0b0", 1.5),
    // F
    txt(10, 697, "Observed bacterial OTUs", { rot: R90 }),
    txt(195, 840, "Observed fungal OTUs"),
    txt(176, 703, "WT, {i|r} = \u20130.072; {i|P} = .662", { align: "left" }),
    txt(184, 753, "MUT, {i|r} = \u20130.060; {i|P} = .729", { align: "left" }),
    { type: "rect", shape: { x: 253, y: 622, width: 95, height: 23 }, silent: true, z: 99, style: { fill: "#fff", stroke: "#666", lineWidth: 1 } },
    seg(257, 628, 277, 628, "#444", 1, [3, 2]),
    circ(267, 628, 2.6, "#fff", "#444"),
    txt(279, 628, "{i|NOD2} MUT", { align: "left", size: 11.5 }),
    seg(257, 639, 277, 639, "#444", 1),
    circ(267, 639, 2.6, "#000"),
    txt(279, 639, "{i|NOD2} WT", { align: "left", size: 11.5 }),
    // G
    txt(373, 717, "Bacterial shannon diversity", { rot: R90 }),
    txt(563, 840, "Fungal shannon diversity"),
    txt(423, 764, "WT, {i|r} = \u20130.349; {i|P} = .029", { align: "left" }),
    txt(423, 787, "MUT, {i|r} = \u20130.238; {i|P} = .162", { align: "left" }),
    { type: "rect", shape: { x: 651, y: 617, width: 72, height: 22 }, silent: true, z: 99, style: { fill: "#fff", stroke: "#555", lineWidth: 1 } },
    seg(653, 623, 673, 623, "#444", 1, [3, 2]),
    circ(663, 623, 2, "#fff", "#444"),
    txt(675, 623, "NOD2 MUT", { align: "left", size: 7.5 }),
    seg(653, 632, 673, 632, "#444", 1),
    circ(663, 632, 2, "#000"),
    txt(675, 632, "NOD2 WT", { align: "left", size: 7.5 }),
  ];

  return { animation: false, backgroundColor: "#fff", grid, xAxis, yAxis, series, graphic };
}

export default function App() {
  const ref = useRef<HTMLDivElement>(null);
  useEffect(() => {
    const chart = echarts.init(ref.current!, null, { renderer: "svg" });
    chart.setOption(buildOption() as any);
    return () => chart.dispose();
  }, []);
  return <div ref={ref} style={{ position: "absolute", left: 0, top: 0, width: 728, height: 847, background: "#fff" }} />;
}
